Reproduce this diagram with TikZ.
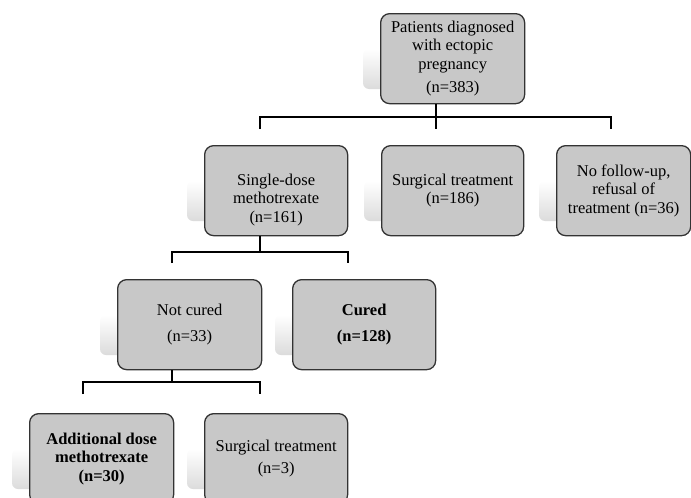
\documentclass[tikz,border=0pt]{standalone}
\usepackage{fontspec}
\setmainfont{Liberation Serif}
\definecolor{boxfill}{HTML}{C8C8C8}
\definecolor{boxline}{HTML}{333333}
\tikzset{
  box/.style={draw=boxline, line width=1.3pt, fill=boxfill, rounded corners=9pt,
    minimum width=#1, minimum height=90pt, anchor=north west, align=center,
    font=\fontsize{16.5}{18.5}\selectfont, inner sep=2pt},
  shadebox/.style={top color=white, bottom color=black!14, draw=none, rounded corners=6pt},
  link/.style={line width=1.1pt, draw=black}
}
\newcommand\mybox[5]{%
  \shade[shadebox] (#2-17,#3+36) rectangle (#2+#4-10,#3+76);
  \node[box=#4pt] (#1) at (#2,#3) {#5};}
\begin{document}
\begin{tikzpicture}[x=1pt,y=-1pt]
\useasboundingbox (0,0) rectangle (691,498);
\clip (0,0) rectangle (691,498);
% boxes
\mybox{p}{380}{13}{144}{Patients diagnosed\\with ectopic\\pregnancy\\[5pt](n=383)}
\mybox{sd}{204}{145}{143}{\rule{0pt}{30pt}Single-dose\\methotrexate\\(n=161)}
\mybox{st}{381}{145}{142}{Surgical treatment\\(n=186)}
\mybox{nf}{556}{145}{134}{No follow-up,\\refusal of\\treatment (n=36)}
\mybox{nc}{117}{279}{144}{Not cured\\[7pt](n=33)}
\mybox{cu}{292}{279}{143}{\textbf{Cured}\\[7pt]\textbf{(n=128)}}
\mybox{ad}{29}{413}{144}{\textbf{Additional dose}\\\textbf{methotrexate}\\\textbf{(n=30)}}
\mybox{sb}{204}{413}{143}{Surgical treatment\\[3pt](n=3)}
% level 1 connector
\coordinate (h1l) at (260,117);
\coordinate (h1r) at (611,117);
\coordinate (d1l) at (260,129);
\coordinate (d1m) at (436,129);
\coordinate (d1r) at (611,129);
\draw[link] (d1m |- p.south) -- (d1m);
\draw[link] (d1l) -- (h1l) -- (h1r) -- (d1r);
% level 2 connector
\coordinate (h2l) at (172,252);
\coordinate (h2m) at (260,252);
\coordinate (h2r) at (348,252);
\coordinate (d2l) at (172,263);
\coordinate (d2r) at (348,263);
\draw[link] (h2m |- sd.south) -- (h2m);
\draw[link] (d2l) -- (h2l) -- (h2r) -- (d2r);
% level 3 connector
\coordinate (h3l) at (83,382);
\coordinate (h3m) at (172,382);
\coordinate (h3r) at (260,382);
\coordinate (d3l) at (83,394);
\coordinate (d3r) at (260,394);
\draw[link] (h3m |- nc.south) -- (h3m);
\draw[link] (d3l) -- (h3l) -- (h3r) -- (d3r);
\end{tikzpicture}
\end{document}
